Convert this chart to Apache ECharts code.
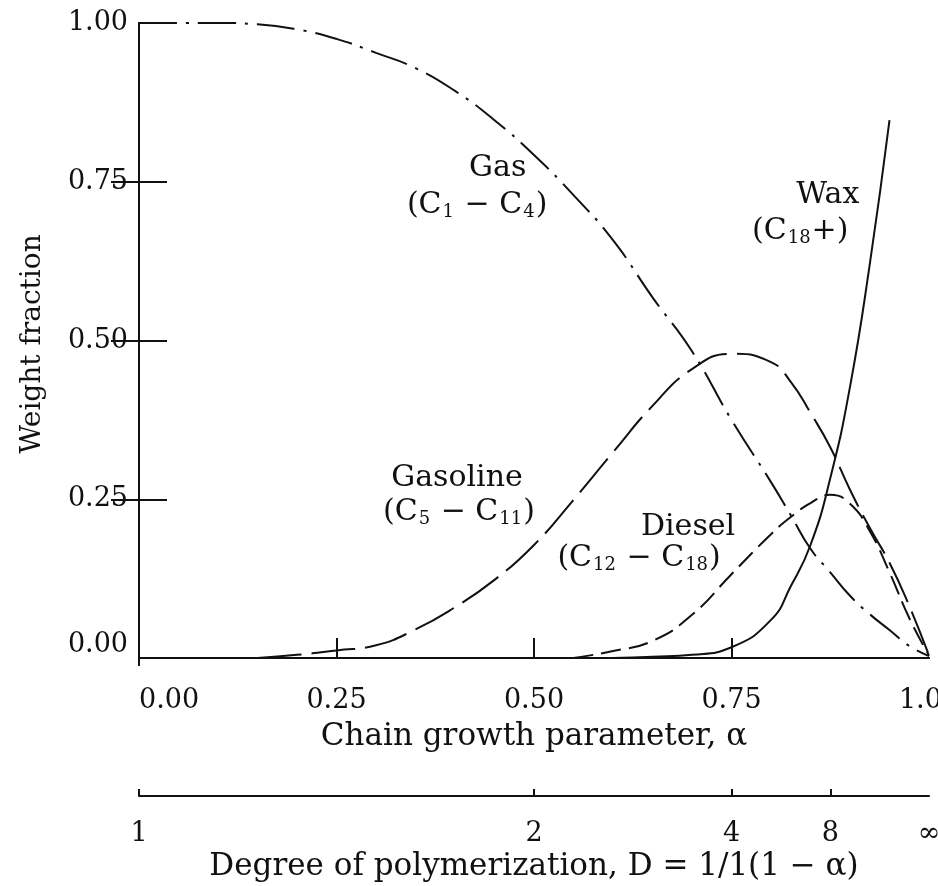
<!DOCTYPE html>
<html>
<head>
<meta charset="utf-8">
<script src="https://cdn.jsdelivr.net/npm/echarts@6/dist/echarts.min.js"></script>
<style>
  html, body { margin: 0; padding: 0; background: #ffffff; }
  #chart { width: 938px; height: 886px; }
</style>
</head>
<body>
<div id="chart"></div>
<script>
// Chain growth parameter (alpha) sample points shared by all product curves
const alpha    = [0, 0.1, 0.15, 0.2, 0.25, 0.3, 0.35, 0.4, 0.45, 0.5, 0.55, 0.6, 0.65, 0.7, 0.75, 0.8, 0.825, 0.85, 0.875, 0.9, 0.925, 0.95, 0.975, 1.0];
// Weight fraction of each product cut
const gas      = [1.0, 1.0, 0.998, 0.99, 0.975, 0.953, 0.929, 0.893, 0.847, 0.792, 0.729, 0.658, 0.568, 0.483, 0.375, 0.277, 0.225, 0.172, 0.135, 0.098, 0.069, 0.044, 0.019, 0.003];
const gasoline = [null, null, 0, 0.005, 0.012, 0.02, 0.045, 0.08, 0.123, 0.178, 0.249, 0.324, 0.397, 0.455, 0.479, 0.466, 0.435, 0.386, 0.332, 0.265, 0.205, 0.150, 0.082, 0.004];
const diesel   = [null, null, null, null, null, null, null, null, null, null, 0, 0.011, 0.027, 0.068, 0.132, 0.195, 0.222, 0.244, 0.257, 0.243, 0.2, 0.135, 0.063, 0.004];
const wax      = [null, null, null, null, null, null, null, null, null, null, null, 0, 0.002, 0.005, 0.017, 0.06, 0.113, 0.178, 0.283, 0.427, 0.62, 0.847, null, null];

// Tick positions and labels
const weightTicks = [0, 0.25, 0.5, 0.75, 1];
const alphaTicks  = [0, 0.25, 0.5, 0.75, 1];
const dpTicks     = [0, 0.5, 0.75, 0.875, 1];   // alpha positions of D = 1, 2, 4, 8, infinity
const dpLabels    = ['1', '2', '4', '8', '∞'];

// Curve annotations (text, alpha, weight fraction)
const noteText   = ['Gas', '(C{s|1} − C{s|4})', 'Wax', '(C{s|18}+)', 'Gasoline', '(C{s|5} − C{s|11})', 'Diesel', '(C{s|12} − C{s|18})'];
const noteAlpha  = [0.454, 0.428, 0.872, 0.837, 0.4025, 0.405, 0.695, 0.633];
const noteWeight = [0.772, 0.713, 0.729, 0.672, 0.283, 0.230, 0.206, 0.157];

const INK = '#111111';
const FONT = '"DejaVu Serif", "Liberation Serif", serif';

function pairs(values) {
  const out = [];
  values.forEach((v, i) => { if (v !== null) out.push([alpha[i], v]); });
  return out;
}

function curve(name, values, dash) {
  return {
    name: name,
    type: 'line',
    data: pairs(values),
    smooth: 0.5,
    symbol: 'none',
    silent: true,
    lineStyle: { color: INK, width: 2, type: dash }
  };
}

const chart = echarts.init(document.getElementById('chart'), null, { renderer: 'canvas' });

chart.setOption({
  backgroundColor: '#ffffff',
  animation: false,
  grid: { left: 139, right: 9, top: 23, bottom: 221, outerBoundsMode: 'none' },
  xAxis: [
    {
      type: 'value', min: 0, max: 1, position: 'bottom',
      axisLine: { show: true, lineStyle: { color: INK, width: 2 } },
      axisTick: { show: true, inside: true, length: 20, customValues: [0.25, 0.5, 0.75], lineStyle: { color: INK, width: 2 } },
      axisLabel: {
        show: true, customValues: alphaTicks, margin: 22,
        formatter: v => v.toFixed(2),
        alignMinLabel: 'left',
        color: INK, fontFamily: FONT, fontSize: 27
      },
      splitLine: { show: false },
      name: 'Chain growth parameter, α',
      nameLocation: 'middle', nameGap: 56,
      nameTextStyle: { color: INK, fontFamily: FONT, fontSize: 31 }
    },
    {
      type: 'value', min: 0, max: 1, position: 'top',
      axisLine: { show: true, lineStyle: { color: INK, width: 2 } },
      axisTick: { show: false }, axisLabel: { show: false }, splitLine: { show: false }
    },
    {
      type: 'value', min: 0, max: 1, position: 'bottom', offset: 131,
      axisLine: { show: true, lineStyle: { color: INK, width: 2 } },
      axisTick: { show: true, inside: true, length: 7, customValues: [0, 0.5, 0.75, 0.875], lineStyle: { color: INK, width: 2 } },
      axisLabel: {
        show: true, customValues: dpTicks, margin: 24,
        formatter: v => dpLabels[dpTicks.indexOf(v)],
        color: INK, fontFamily: FONT, fontSize: 27
      },
      splitLine: { show: false },
      name: 'Degree of polymerization, D = 1/1(1 − α)',
      nameLocation: 'middle', nameGap: 50,
      nameTextStyle: { color: INK, fontFamily: FONT, fontSize: 31 }
    }
  ],
  yAxis: [
    {
      type: 'value', min: -0.011, max: 1, position: 'left',
      axisLine: { show: true, lineStyle: { color: INK, width: 2 } },
      axisTick: { show: true, inside: true, length: 28, customValues: [0.25, 0.5, 0.75], lineStyle: { color: INK, width: 2 } },
      axisLabel: {
        show: true, customValues: weightTicks, margin: 11,
        formatter: v => v.toFixed(2),
        verticalAlignMinLabel: 'bottom',
        color: INK, fontFamily: FONT, fontSize: 27
      },
      splitLine: { show: false },
      name: 'Weight fraction',
      nameLocation: 'middle', nameGap: 92, nameRotate: 90,
      nameTextStyle: { color: INK, fontFamily: FONT, fontSize: 28 }
    },
    {
      type: 'value', min: -0.011, max: 1, position: 'right',
      axisLine: { show: true, lineStyle: { color: INK, width: 2 } },
      axisTick: { show: true, inside: true, length: 28, customValues: [0.25, 0.5, 0.75], lineStyle: { color: INK, width: 2 } },
      axisLabel: { show: false }, splitLine: { show: false }
    }
  ],
  series: [
    curve('Gas', gas, [38, 9, 3, 9]),
    curve('Gasoline', gasoline, [44, 10]),
    curve('Diesel', diesel, [20, 8]),
    curve('Wax', wax, 'solid'),
    {
      name: 'notes',
      type: 'scatter',
      silent: true,
      symbolSize: 1,
      itemStyle: { color: 'rgba(0,0,0,0)', opacity: 1 },
      data: noteText.map((t, i) => ({ value: [noteAlpha[i], noteWeight[i]], text: t })),
      label: {
        show: true,
        position: 'inside',
        formatter: p => p.data.text,
        color: INK, fontFamily: FONT, fontSize: 30,
        rich: {
          s: { fontFamily: FONT, fontSize: 18, color: INK, padding: [14, 1, 0, 1] }
        }
      }
    }
  ]
});
</script>
</body>
</html>
